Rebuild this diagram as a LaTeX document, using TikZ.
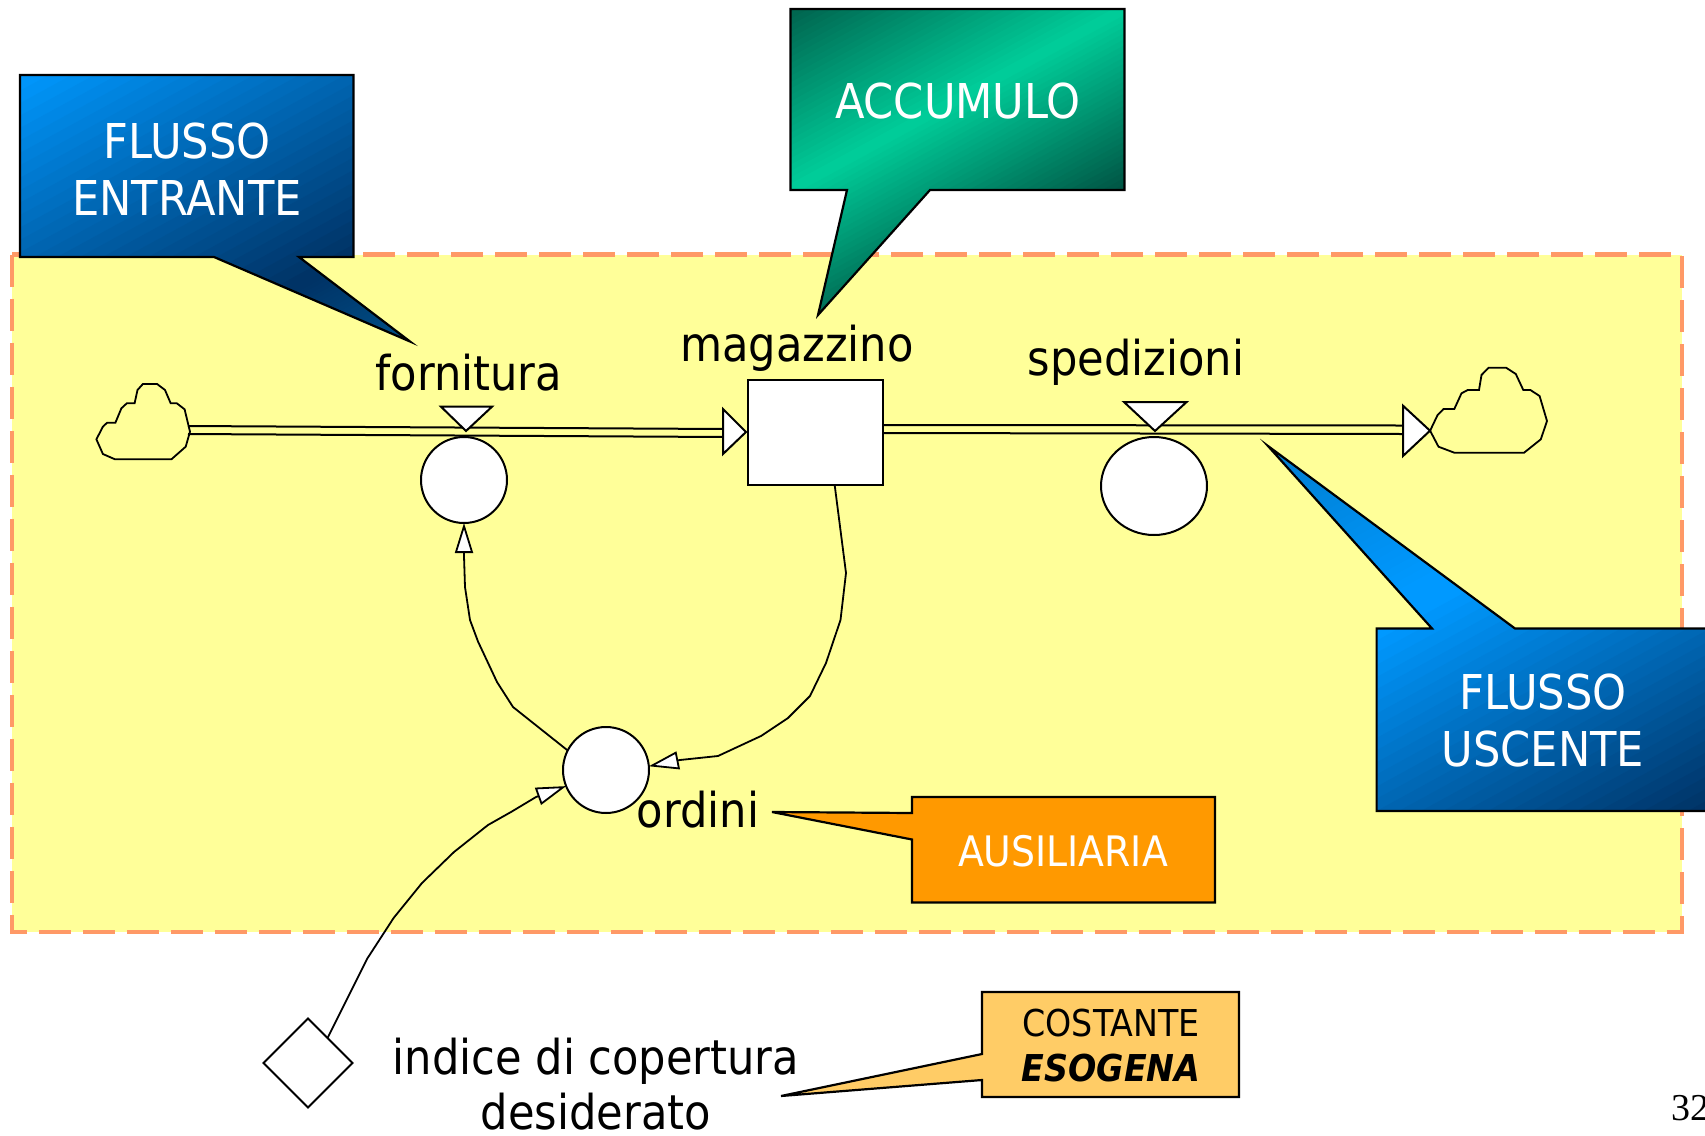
\documentclass[tikz,border=0pt]{standalone}
\usepackage{fontspec}
\setmainfont{DejaVu Sans Condensed}
\newfontfamily\pagefont{Liberation Serif}
\usetikzlibrary{arrows.meta,shapes.geometric}
\definecolor{zonefill}{RGB}{255,255,153}
\definecolor{zoneline}{RGB}{255,153,102}
\definecolor{bluelight}{RGB}{0,153,255}
\definecolor{bluedark}{RGB}{0,51,102}
\definecolor{bluetip}{RGB}{0,84,140}
\definecolor{bluemid}{RGB}{0,120,200}
\definecolor{greenlight}{RGB}{0,204,153}
\definecolor{greendarkA}{RGB}{0,95,75}
\definecolor{greendarkB}{RGB}{0,85,68}
\definecolor{orangefill}{RGB}{255,153,0}
\definecolor{sandfill}{RGB}{255,204,102}
\newcommand{\rampfill}[4]{%
  \foreach \i in {0,...,29}{%
    \pgfmathsetmacro\tv{#1+(#2-#1)*\i/30}%
    \pgfmathsetmacro\pv{100*\i/29}%
    \fill[#4!\pv!#3] (\tv+6,-6) -- (\tv-6,6) -- (12,6) -- (12,-6) -- cycle;
  }%
}
\tikzset{
  x=0.5pt,y=-0.5pt,
  every node/.style={inner sep=0pt,outer sep=0pt},
  shape line/.style={draw=black,line width=1pt,line join=miter},
  callout line/.style={draw=black,line width=1.1pt,line join=miter},
  flow/.style={draw=black,line width=1pt,fill=white},
  pipe/.style={draw=black,line width=1pt},
  cloudshape/.style={draw=black,line width=0.9pt},
  link/.style={draw=black,line width=0.9pt,line join=round,
    -{Triangle[open,fill=white,length=15pt,width=9pt,line width=0.9pt]}},
  plain link/.style={draw=black,line width=0.9pt,line join=round},
  aux/.style={circle,draw=black,line width=1pt,fill=white,minimum size=43pt},
  label/.style={font=\fontsize{24}{28}\selectfont,text=black},
  calltext/.style={font=\fontsize{24}{28.5}\selectfont,text=white,align=center},
}
\begin{document}
\begin{tikzpicture}
\clip (0,0) rectangle (1705,1136);
% zone
\draw[fill=zonefill,draw=zoneline,line width=2.2pt,dash pattern=on 16pt off 6pt]
  (12,254.5) rectangle (1682,932);
% pipes
\coordinate (pA1) at (188,426); \coordinate (pA2) at (724,429);
\coordinate (pB1) at (188,434); \coordinate (pB2) at (724,437);
\coordinate (pC1) at (884,425); \coordinate (pC2) at (1403,425.5);
\coordinate (pD1) at (884,433); \coordinate (pD2) at (1403,434);
\draw[pipe] (pA1) -- (pA2); \draw[pipe] (pB1) -- (pB2);
\draw[pipe] (pC1) -- (pC2); \draw[pipe] (pD1) -- (pD2);
% clouds
\draw[cloudshape] (96.4,439.3) -- (102.9,426.7) -- (107.1,422.7) -- (115.4,422.7) -- (121.4,408.3) -- (126.8,403.3) -- (134.6,403.3) -- (137.5,390) -- (142.9,384) -- (157.1,384) -- (165,390) -- (170.7,403.3) -- (176.8,403.3) -- (184.6,409.3) -- (190,431.7) -- (185.7,446.7) -- (171.4,459.3) -- (115,459.3) -- (102.9,454) -- cycle;
\draw[cloudshape] (1430.1,430.7) -- (1437.6,415) -- (1443.5,409) -- (1454.3,409) -- (1461.5,393.3) -- (1467.7,390) -- (1479,390) -- (1481.5,375) -- (1488.6,367.7) -- (1506.1,367.7) -- (1515.8,374) -- (1523.3,390) -- (1530.4,390) -- (1539.6,396) -- (1547,421) -- (1540.8,439.3) -- (1524.1,452.7) -- (1454.3,452.7) -- (1438.5,446.7) -- cycle;
% flow heads and valves
\draw[flow] (723,409) -- (746,432) -- (723,454) -- cycle;
\draw[flow] (1403,405.7) -- (1430,430.7) -- (1403,456) -- cycle;
\draw[flow] (441,406.7) -- (492,406.7) -- (466,431) -- cycle;
\draw[flow] (1124,402) -- (1186.6,402) -- (1155,431) -- cycle;
% model nodes
\node[aux] (fornitura) at (464,480) {};
\node[aux] (ordini) at (606,770) {};
\node[ellipse,draw=black,line width=1pt,fill=white,minimum width=53pt,minimum height=49pt] (spedizioni) at (1154,486) {};
\node[rectangle,draw=black,line width=1pt,fill=white,minimum width=67.5pt,minimum height=52.5pt] (magazzino) at (815.5,432) {};
\node[diamond,draw=black,line width=0.9pt,fill=white,minimum width=44.5pt,minimum height=44.5pt,aspect=1] (indice) at (308,1063) {};
% links
\draw[link] (magazzino.-70) -- (846,573) -- (840.5,620) -- (826,663) -- (810,696) -- (788,718) -- (761,736) -- (718,756) -- (680,760) -- (ordini.5);
\draw[link] (ordini.153) -- (513,707) -- (497,682) -- (478,641.5) -- (470,620) -- (465,587) -- (464,556) -- (fornitura.south);
\draw[link] (indice.52) -- (367,959) -- (393.6,918) -- (422,883) -- (454,852) -- (488,825) -- (511,812) -- (536,797) -- (ordini.202.5);
% callouts
\def\calloutA{(20,75) -- (353.5,75) -- (353.5,257) -- (299,257) -- (410,341.5) -- (214,257) -- (20,257) -- cycle}
\def\calloutB{(790.5,9) -- (1124.5,9) -- (1124.5,190) -- (930,190) -- (818,315) -- (847,190) -- (790.5,190) -- cycle}
\def\calloutC{(1376.6,628.5) -- (1432,628.5) -- (1268,446) -- (1515,628.5) -- (1725,628.5) -- (1725,811) -- (1376.6,811) -- cycle}
\begin{scope}
  \clip \calloutA;
  \begin{scope}[shift={(20,75)},x={(166.75pt,0pt)},y={(0pt,-91pt)}]
    \rampfill{-0.05}{2}{bluelight}{bluedark}
    \rampfill{2}{2.7}{bluedark}{bluetip}
  \end{scope}
\end{scope}
\draw[callout line] \calloutA;
\begin{scope}
  \clip \calloutB;
  \begin{scope}[shift={(790.5,9)},x={(167pt,0pt)},y={(0pt,-90.5pt)}]
    \rampfill{-0.05}{1}{greendarkA}{greenlight}
    \rampfill{1}{2}{greenlight}{greendarkB}
  \end{scope}
\end{scope}
\draw[callout line] \calloutB;
\begin{scope}
  \clip \calloutC;
  \begin{scope}[shift={(1376.6,628.5)},x={(166.7pt,0pt)},y={(0pt,-91.25pt)}]
    \rampfill{-1.5}{-0.1}{bluemid}{bluelight}
    \rampfill{0}{2}{bluelight}{bluedark}
  \end{scope}
\end{scope}
\draw[callout line] \calloutC;
\draw[callout line,fill=orangefill] (912,797) -- (1215,797) -- (1215,902.5) -- (912,902.5) -- (912,839.5) -- (772,812) -- (912,813) -- cycle;
\draw[callout line,fill=sandfill] (982,992) -- (1239,992) -- (1239,1097) -- (982,1097) -- (982,1080) -- (781,1096) -- (982,1054) -- cycle;
% callout texts
\node[calltext] (tEntrante) at (187,169) {FLUSSO\\ENTRANTE};
\node[calltext] (tAccumulo) at (958,101) {ACCUMULO};
\node[calltext] (tUscente) at (1543,720.5) {FLUSSO\\USCENTE};
\node[calltext,font=\fontsize{21}{25}\selectfont] (tAusiliaria) at (1063,851) {AUSILIARIA};
\node[align=center,text=black,font=\fontsize{18.5}{22.5}\selectfont] (tCostante) at (1111,1046) {COSTANTE\\{\bfseries\itshape ESOGENA}};
% labels
\node[label,anchor=base] (lForn) at (469,390) {fornitura};
\node[label,anchor=base] (lMag) at (797,361) {magazzino};
\node[label,anchor=base] (lSped) at (1136,375) {spedizioni};
\node[label,anchor=base] (lOrd) at (698,827) {ordini};
\node[label,align=center,font=\fontsize{24}{27.5}\selectfont] (lInd) at (596,1084.5) {indice di copertura\\desiderato};
\node[anchor=base west,font=\pagefont\fontsize{19}{22}\selectfont] (pageno) at (1671,1120) {32};
\end{tikzpicture}
\end{document}
